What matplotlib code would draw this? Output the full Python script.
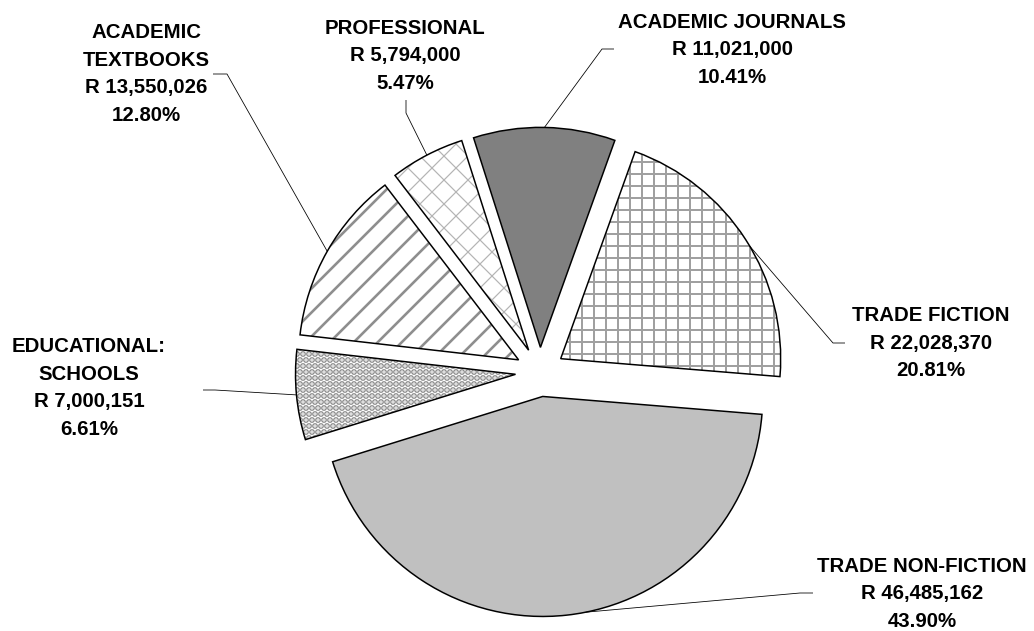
import numpy as np
import matplotlib
matplotlib.use("Agg")
import matplotlib.pyplot as plt

# data (clockwise from the top)
labels = ["ACADEMIC JOURNALS", "TRADE FICTION", "TRADE NON-FICTION",
          "EDUCATIONAL:\nSCHOOLS", "ACADEMIC\nTEXTBOOKS", "PROFESSIONAL"]
values = [11021000, 22028370, 46485162, 7000151, 13550026, 5794000]

# looks
fills = ["#808080", "white", "#c0c0c0", "white", "white", "white"]
hatches = [None, "+", None, "..", "/", "x"]
hatch_cols = [None, "#a0a0a0", None, "#8a8a8a", "#8e8e8e", "#b4b4b4"]
hatch_lws = [0, 2.0, 0, 4.5, 2.6, 1.2]

W, H = 1034, 631
DPI = 72
fig = plt.figure(figsize=(W / DPI, H / DPI), dpi=DPI)
ax = fig.add_axes([0, 0, 1, 1])

center = (540, H - 372)
R = 220
expl = [24.6] * len(values)
start = 107.7

wedges, _ = ax.pie(values, colors=fills, startangle=start, counterclock=False,
                   radius=R, center=center, explode=expl, frame=True,
                   wedgeprops=dict(linewidth=0))
for w, h, hc, hl in zip(wedges, hatches, hatch_cols, hatch_lws):
    if h:
        w.set_hatch(h)
        w.set_edgecolor(hc)
        if hasattr(w, "set_hatch_linewidth"):
            w.set_hatch_linewidth(hl)
        else:
            w._hatch_linewidth = hl

# black outlines on top
outl, _ = ax.pie(values, colors=["none"] * len(values), startangle=start,
                 counterclock=False, radius=R, center=center, explode=expl,
                 frame=True,
                 wedgeprops=dict(linewidth=1.5, edgecolor="black", fill=False))

# label layout, image pixel coords: text centre, elbow, line end
text_pos = [(732, 50), (931, 343), (922, 594), (89, 388), (146, 74), (405, 56)]
elbows = [(602, 49), (833, 343), (800, 593), (215, 390), (227, 74), (406, 113)]
ends = [(614, 49), (845, 343), (813, 593), (203, 390), (213, 74), (406, 100)]
anchor_shift = [0, -2, 5, 0, 0, 0]   # degrees off the slice middle

total = sum(values)
for w, lab, v, tp, eb, en, sh in zip(outl, labels, values, text_pos, elbows,
                                     ends, anchor_shift):
    mid = np.deg2rad((w.theta1 + w.theta2) / 2 + sh)
    ax0 = w.center[0] + w.r * np.cos(mid)
    ay0 = w.center[1] + w.r * np.sin(mid)
    ax.plot([ax0, eb[0], en[0]], [ay0, H - eb[1], H - en[1]],
            color="black", lw=0.8, solid_capstyle="butt", zorder=3)
    txt = "%s\nR %s\n%.2f%%" % (lab, format(v, ","), 100.0 * v / total)
    ax.text(tp[0], H - tp[1], txt, ha="center", va="center",
            multialignment="center", fontsize=20.4, fontweight="bold",
            family=["Liberation Sans", "DejaVu Sans"], linespacing=1.58)

ax.set_xlim(0, W)
ax.set_ylim(0, H)
ax.set_aspect("auto")
ax.axis("off")

fig.savefig("out.png", dpi=DPI, facecolor="white")
